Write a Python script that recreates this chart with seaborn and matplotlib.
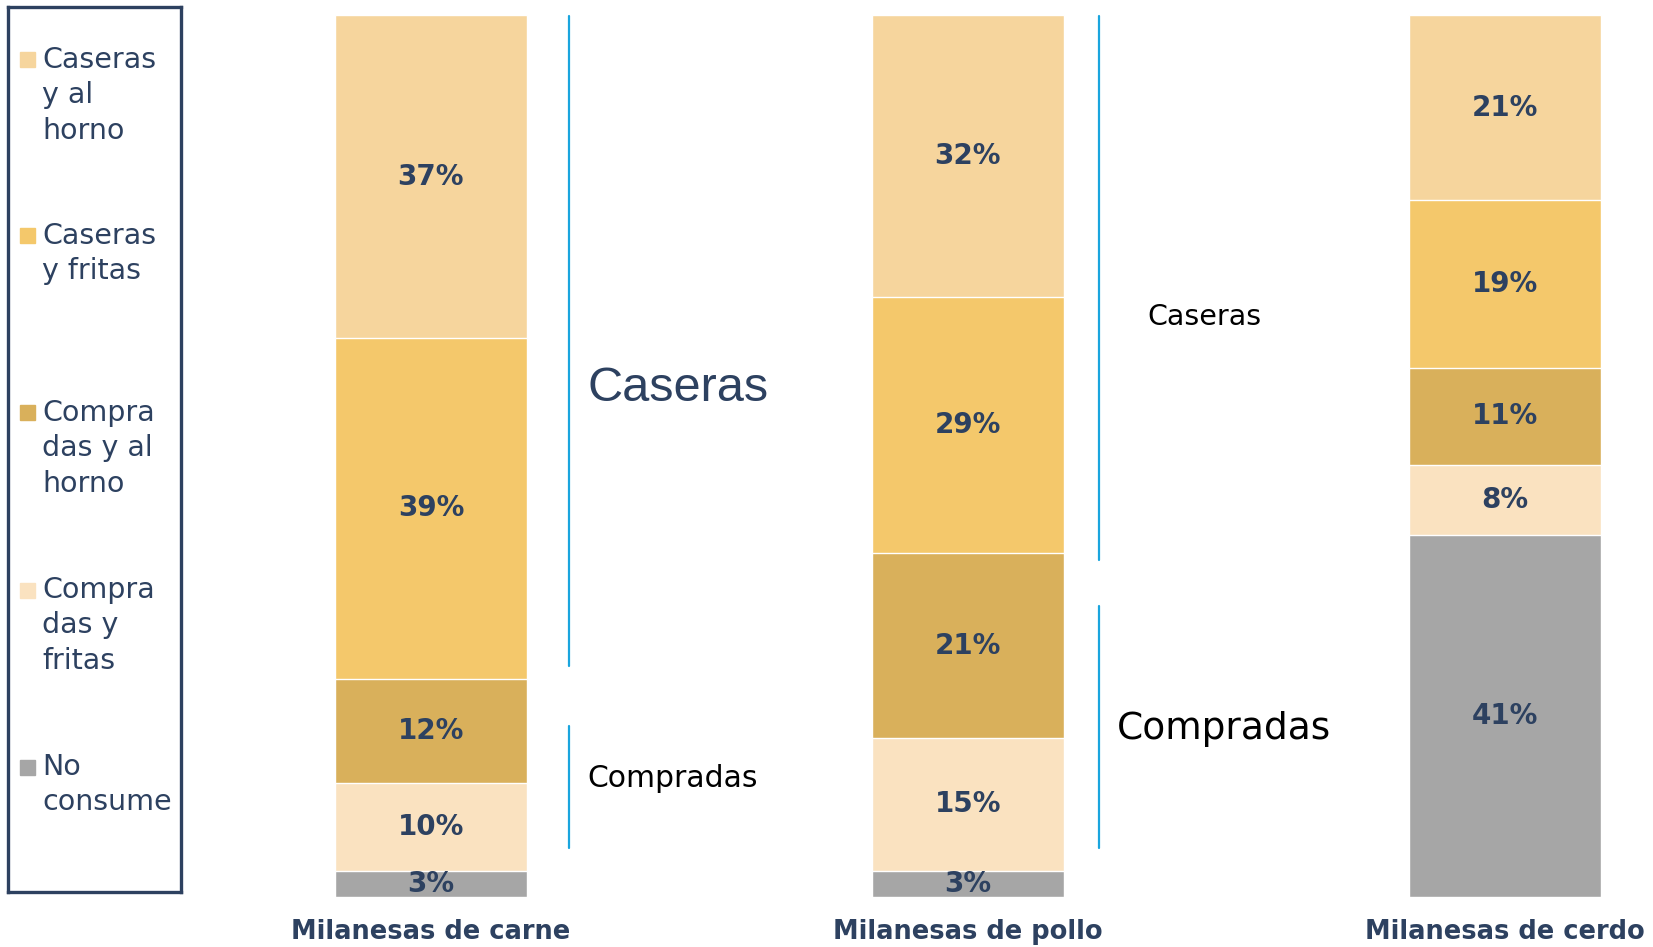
import numpy as np
import pandas as pd
import seaborn as sns
import matplotlib.pyplot as plt
from matplotlib.patches import Rectangle

# data
productos = ["Milanesas de carne", "Milanesas de pollo", "Milanesas de cerdo"]
segmentos = ["Caseras y al horno", "Caseras y fritas", "Compradas y al horno",
             "Compradas y fritas", "No consume"]
leyenda = ["Caseras\ny al\nhorno", "Caseras\ny fritas", "Compra\ndas y al\nhorno",
           "Compra\ndas y\nfritas", "No\nconsume"]
caseras_horno = [37, 32, 21]
caseras_fritas = [39, 29, 19]
compradas_horno = [12, 21, 11]
compradas_fritas = [10, 15, 8]
no_consume = [3, 3, 41]
colores = ["#F6D59D", "#F4C86B", "#D9B05B", "#FAE2C0", "#A6A6A6"]

navy = "#2D4160"
azul = "#1AA5DE"

sns.set_style("white")
plt.rcParams["font.family"] = ["DejaVu Sans"]

valores = np.array([caseras_horno, caseras_fritas, compradas_horno,
                    compradas_fritas, no_consume], dtype=float)
# bars are drawn as 100% stacks (carne adds up to 101)
alturas = valores / valores.sum(axis=0) * 100
# stacking from the bottom: no consume first
orden = [4, 3, 2, 1, 0]
acum = np.cumsum(alturas[orden], axis=0)

fig = plt.figure(figsize=(16.53, 9.47), dpi=100)
ax = fig.add_axes([200 / 1653, 1 - 897 / 947, 1453 / 1653, 882 / 947])

# draw cumulative bars back to front
for k in range(len(orden) - 1, -1, -1):
    df = pd.DataFrame({"producto": productos, "valor": acum[k]})
    sns.barplot(data=df, x="producto", y="valor", color=colores[orden[k]],
                width=0.3575, saturation=1, ax=ax, order=productos)

for k, i in enumerate(orden):
    for j in range(len(productos)):
        base = acum[k - 1][j] if k > 0 else 0
        ax.text(j, base + alturas[i][j] / 2, f"{int(valores[i][j])}%",
                ha="center", va="center", fontsize=20, fontweight="bold", color=navy)

ax.set_xlim(-0.430, 2.276)
ax.set_ylim(0, 100)
ax.set_xlabel("")
ax.set_ylabel("")
ax.set_yticks([])
sns.despine(ax=ax, left=True, bottom=True)
ax.tick_params(axis="x", length=0, pad=16)
for t in ax.get_xticklabels():
    t.set_fontsize(18.5)
    t.set_fontweight("bold")
    t.set_color(navy)

# brackets Caseras / Compradas
ax.plot([0.258, 0.258], [26.2, 99.9], color=azul, lw=1.6, clip_on=False)
ax.plot([0.258, 0.258], [5.6, 19.4], color=azul, lw=1.6, clip_on=False)
ax.plot([1.245, 1.245], [38.2, 99.9], color=azul, lw=1.6, clip_on=False)
ax.plot([1.245, 1.245], [5.6, 33.0], color=azul, lw=1.6, clip_on=False)
ax.text(0.291, 57.7, "Caseras", fontsize=35, color=navy, va="center",
        family="Liberation Sans")
ax.text(0.291, 13.4, "Compradas", fontsize=21.5, color="black", va="center")
ax.text(1.335, 65.8, "Caseras", fontsize=20.5, color="black", va="center")
ax.text(1.278, 19.0, "Compradas", fontsize=27, color="black", va="center")

# legend box at the left
lax = fig.add_axes([8 / 1653, 1 - 892 / 947, 173 / 1653, 885 / 947])
lax.set_xticks([])
lax.set_yticks([])
for s in lax.spines.values():
    s.set_color(navy)
    s.set_linewidth(2.4)
ys = [60, 236, 413, 590, 767]
for yp, lab, col in zip(ys, leyenda, colores):
    yc = 1 - (yp - 7) / 885
    lax.add_patch(Rectangle((12 / 173, yc - 7.5 / 885), 15 / 173, 15 / 885,
                            transform=lax.transAxes, color=col))
    lax.text(34 / 173, yc + 14 / 885, lab, transform=lax.transAxes, fontsize=20.5,
             color=navy, va="top", ha="left", linespacing=1.33)

fig.savefig("out.png", dpi=100)
